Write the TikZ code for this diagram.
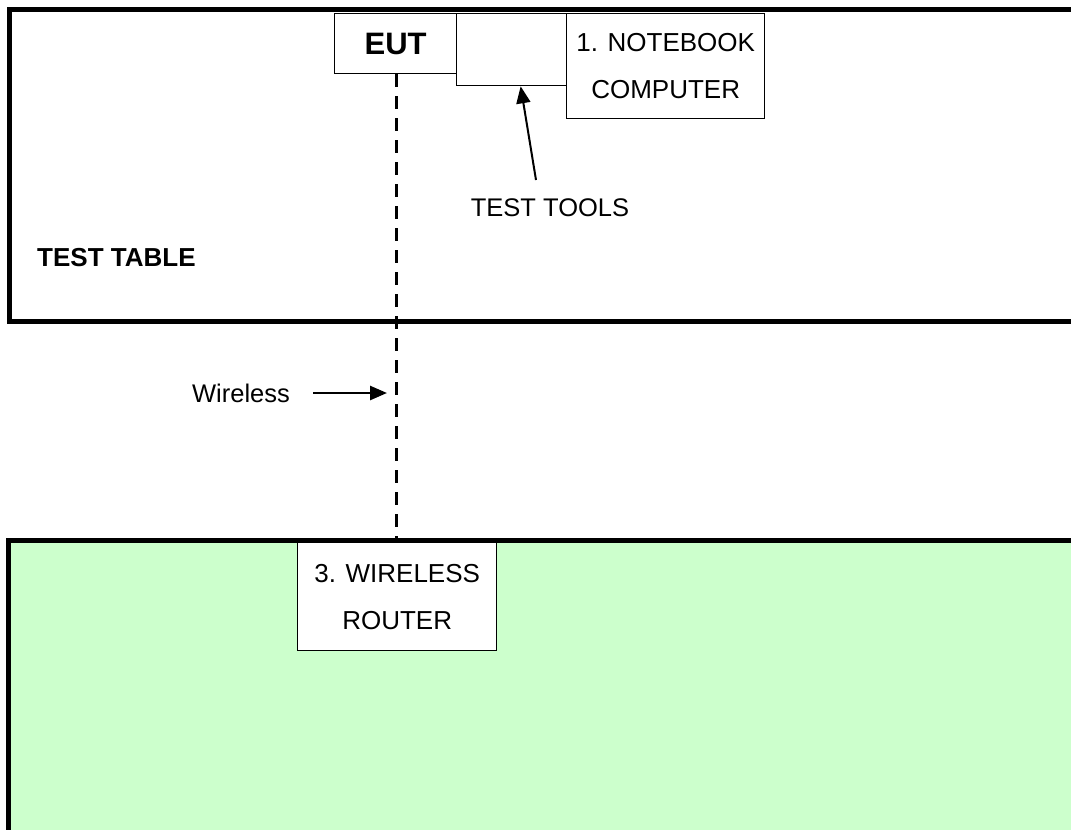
\documentclass[tikz,border=0pt]{standalone}
\usepackage{fontspec}
\setmainfont{Liberation Sans}
\usetikzlibrary{arrows.meta}
\definecolor{floorgreen}{HTML}{CCFFCC}
\begin{document}
\begin{tikzpicture}[x=1pt,y=-1pt,
  box/.style={draw, line width=1.3pt, fill=white, inner sep=0pt, anchor=north west,
    font=\fontsize{26}{47}\selectfont, align=center},
  label/.style={inner sep=0pt, font=\fontsize{25.5}{30}\selectfont},
  border/.style={line width=5pt},
  link/.style={line width=2.6pt, dash pattern=on 13pt off 9pt},
  pointer/.style={line width=2pt, -{Triangle[length=17pt,width=14pt]}}]
\useasboundingbox (0,0) rectangle (1071,830);
\clip (0,0) rectangle (1071,830);

% floor area with the access point
\fill[floorgreen] (8,540) rectangle (1100,860);
\node[box, minimum width=199pt, minimum height=108pt] (router) at (297,542) {3. WIRELESS\\ROUTER};
\draw[border] (1100,540) -- (8,540) -- (8,860);

% test table
\draw[border] (1100,9.5) -- (9.5,9.5) -- (9.5,321) -- (1100,321);
\node[label, font=\fontsize{26}{30}\selectfont\bfseries, anchor=west] (table) at (37,258) {TEST TABLE};

% equipment on the table
\node[box, minimum width=122pt, minimum height=60pt, font=\fontsize{31}{36}\selectfont\bfseries] (eut) at (334,13) {EUT};
\node[box, minimum width=110pt, minimum height=72pt] (tools) at (456,13) {};
\node[box, minimum width=198pt, minimum height=105pt] (notebook) at (566,13) {1. NOTEBOOK\\COMPUTER};

% test tools callout
\node[label] (ttlabel) at (550,208) {TEST TOOLS};
\coordinate (tttail) at (536,180);
\draw[pointer] (tttail) -- ([xshift=9pt]tools.south);

% wireless link
\coordinate (linktop) at ([xshift=1pt]eut.south);
\draw[link] (linktop) -- (linktop |- router.north);

\node[label] (wl) at (241,393) {Wireless};
\coordinate (wltail) at (313,393);
\coordinate (wltip) at (387,393);
\draw[pointer, line width=2.6pt] (wltail) -- (wltip);
\end{tikzpicture}
\end{document}
